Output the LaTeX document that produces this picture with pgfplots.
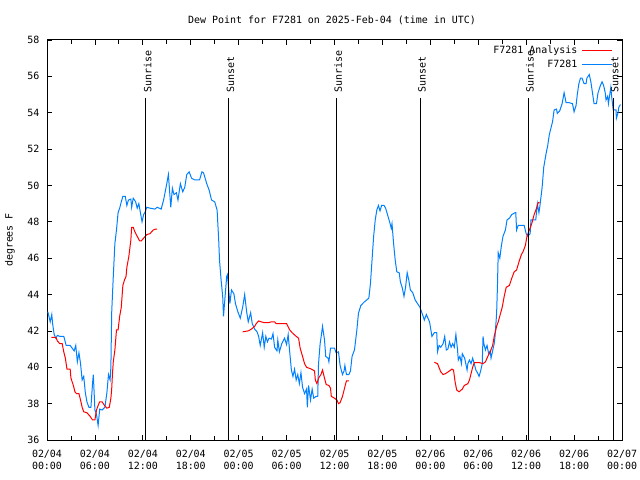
\documentclass[border=0pt]{standalone}
\usepackage{fontspec}
\setmainfont{DejaVu Sans Mono}
\usepackage{pgfplots}
\pgfplotsset{compat=1.18}
\definecolor{obsblue}{RGB}{0,128,255}

% F7281 observations (hours since 02/04 00:00 UTC, degrees F)
\pgfplotstableread{
t v
0.1 43.06
0.4 42.5
0.6 42.9
0.7 42.4
0.9 41.8
1.1 41.6
1.3 41.75
1.6 41.7
2.1 41.7
2.4 41.2
2.9 41.2
3.4 40.9
3.6 41.2
3.8 40.3
4.0 40.8
4.2 40.2
4.4 39.3
4.6 39.5
4.8 38.6
5.0 38.1
5.25 37.8
5.5 37.8
5.7 39.1
5.8 39.6
6.0 37.65
6.2 37.4
6.4 36.8
6.6 37.7
6.9 37.65
7.25 37.8
7.5 38.6
7.7 39.6
7.9 39.3
8.0 40.0
8.1 43.0
8.3 45.0
8.5 46.8
8.7 47.55
8.9 48.5
9.1 48.75
9.3 49.1
9.5 49.4
9.8 49.4
10.0 48.9
10.2 49.2
10.5 49.25
10.6 48.8
10.8 49.3
11.1 49.1
11.3 48.75
11.5 49.0
11.7 48.5
11.9 48.0
12.1 48.4
12.3 48.55
12.5 48.8
12.9 48.75
13.5 48.7
13.8 48.8
14.3 48.7
14.6 49.2
15.0 50.1
15.2 50.6
15.5 48.8
15.7 49.85
15.9 49.5
16.2 49.6
16.4 49.2
16.7 50.1
17.0 49.65
17.25 49.9
17.5 50.6
17.8 50.75
18.1 50.4
18.5 50.3
19.1 50.3
19.4 50.75
19.6 50.7
20.0 50.1
20.3 49.75
20.6 49.2
21.0 49.1
21.3 48.65
21.5 47.0
21.6 45.9
21.8 44.8
22.0 43.9
22.1 42.8
22.3 43.9
22.5 45.0
22.6 45.1
22.9 43.5
23.1 44.25
23.4 44.05
23.6 43.5
23.9 43.05
24.2 42.7
24.5 43.3
24.75 44.0
25.0 43.05
25.2 42.5
25.5 43.0
25.7 42.4
26.0 42.1
26.3 41.95
26.5 41.7
26.7 41.2
27.0 41.9
27.2 41.1
27.4 41.7
27.6 41.4
27.8 41.6
28.1 41.55
28.3 41.85
28.5 41.1
28.8 40.9
28.9 41.5
29.1 40.85
29.4 41.3
29.75 41.6
30.0 41.25
30.2 41.8
30.4 40.8
30.6 39.85
30.8 39.5
31.0 39.9
31.2 39.3
31.4 39.6
31.6 39.1
31.8 39.7
32.0 38.9
32.25 38.55
32.5 38.8
32.6 37.8
32.75 39.0
33.0 38.2
33.2 38.8
33.4 38.3
33.7 38.4
33.9 38.4
34.0 40.2
34.2 41.3
34.3 41.6
34.5 42.25
34.75 41.5
34.9 40.6
35.2 40.5
35.3 40.3
35.5 41.05
36.0 41.05
36.2 40.8
36.5 40.85
36.7 40.1
37.0 39.6
37.2 39.8
37.3 40.1
37.5 39.6
37.8 39.6
38.0 39.8
38.2 40.6
38.5 40.95
38.8 42.05
39.0 42.97
39.3 43.4
39.75 43.6
40.3 43.8
40.5 44.6
40.7 45.9
40.9 47.2
41.1 48.1
41.3 48.65
41.5 48.9
41.7 48.6
41.9 48.9
42.2 48.9
42.4 48.75
42.7 48.3
42.9 48.0
43.1 47.65
43.2 47.9
43.4 46.8
43.6 45.9
43.8 45.25
44.1 45.2
44.25 44.7
44.5 44.35
44.7 43.9
44.9 44.4
45.1 45.2
45.3 44.8
45.5 44.25
45.8 44.1
46.1 43.7
46.4 43.5
46.7 43.3
47.1 42.8
47.25 42.6
47.5 42.9
47.9 42.5
48.2 41.7
48.5 41.9
48.8 41.9
48.9 40.85
49.1 41.2
49.3 41.1
49.6 41.3
49.8 41.7
50.0 40.95
50.2 41.0
50.4 41.4
50.6 41.1
50.8 41.3
51.0 41.1
51.2 41.8
51.4 41.0
51.5 40.4
51.7 40.6
51.9 40.2
52.0 40.75
52.3 40.5
52.6 39.85
52.7 40.2
52.9 40.4
53.1 40.2
53.3 40.5
53.5 40.2
53.7 39.85
53.9 39.7
54.1 39.5
54.3 39.8
54.5 40.2
54.6 41.7
54.7 41.3
54.9 40.95
55.1 41.2
55.3 40.75
55.5 40.9
55.6 40.5
55.8 40.9
56.0 41.3
56.1 41.7
56.3 42.96
56.4 44.4
56.5 46.3
56.7 46.0
56.9 46.7
57.1 47.2
57.4 47.55
57.6 48.1
57.9 48.2
58.2 48.4
58.6 48.5
58.7 48.5
58.8 47.55
59.0 47.8
59.25 47.8
59.75 47.8
60.0 47.35
60.2 47.2
60.5 47.35
60.6 48.1
61.2 48.1
61.4 49.0
61.6 48.5
61.7 48.8
62.0 49.9
62.2 51.0
62.5 51.77
62.7 52.2
62.9 52.8
63.1 53.15
63.3 53.5
63.5 54.15
63.8 54.2
63.9 53.96
64.2 54.1
64.5 54.5
64.75 55.1
65.0 54.55
65.4 54.55
65.8 54.5
66.0 54.05
66.25 54.4
66.4 55.0
66.6 55.6
66.8 55.9
67.0 55.9
67.25 55.6
67.5 55.6
67.6 55.9
67.9 56.1
68.1 55.7
68.3 55.1
68.5 54.5
68.8 54.5
69.0 55.1
69.3 55.5
69.5 55.7
69.7 55.5
69.9 55.1
70.0 54.7
70.2 54.9
70.3 54.5
70.5 55.1
70.6 55.4
70.7 54.9
70.9 54.15
71.25 54.15
71.3 53.7
71.5 54.0
71.6 54.3
71.8 54.45
}\obs

% analysis, three separate pieces
\pgfplotstableread{
t v
0.55 41.65
1.1 41.65
1.3 41.45
1.6 41.3
1.9 41.3
2.1 40.85
2.3 40.5
2.5 39.9
2.9 39.9
3.0 39.4
3.3 39.0
3.5 38.65
3.7 38.55
4.0 38.55
4.2 38.2
4.4 37.8
4.6 37.55
5.0 37.5
5.4 37.3
5.7 37.1
6.0 37.1
6.2 37.65
6.4 37.9
6.6 38.1
6.9 38.1
7.2 37.9
7.5 37.75
7.8 37.8
8.0 38.3
8.1 38.8
8.2 39.65
8.3 40.3
8.5 40.95
8.7 42.05
8.9 42.05
9.1 42.8
9.3 43.3
9.5 44.5
9.7 44.8
9.9 45.0
10.0 45.5
10.25 46.1
10.5 47.0
10.6 47.7
10.8 47.7
11.0 47.45
11.3 47.2
11.6 46.95
11.8 46.95
12.1 47.1
12.5 47.3
12.9 47.35
13.3 47.55
13.6 47.6
13.8 47.6
}\anaA

\pgfplotstableread{
t v
24.5 41.95
25.2 42.0
25.6 42.1
26.0 42.25
26.2 42.4
26.5 42.55
26.8 42.5
27.25 42.45
27.7 42.45
28.1 42.5
28.5 42.5
28.7 42.4
29.1 42.4
29.75 42.4
30.0 42.4
30.4 42.05
30.7 41.9
31.2 41.7
31.5 41.6
31.7 41.05
32.0 40.6
32.25 40.2
32.5 40.0
33.1 39.9
33.5 39.8
33.6 39.3
33.8 39.1
34.0 39.4
34.3 39.6
34.5 39.85
34.75 39.4
34.96 39.05
35.3 39.0
35.5 38.85
35.6 38.4
36.0 38.3
36.3 38.2
36.5 38.0
36.7 38.05
37.0 38.4
37.2 38.75
37.4 39.1
37.5 39.25
37.8 39.25
}\anaB

\pgfplotstableread{
t v
48.5 40.27
48.9 40.2
49.3 39.75
49.6 39.6
49.9 39.65
50.4 39.8
50.7 39.9
50.9 39.85
51.1 39.2
51.3 38.75
51.6 38.65
52.0 38.8
52.25 39.0
52.7 39.1
52.9 39.3
53.1 39.65
53.3 40.0
53.5 40.25
53.8 40.25
54.2 40.25
54.6 40.2
54.9 40.3
55.2 40.6
55.5 40.85
55.8 41.2
56.0 41.7
56.3 42.25
56.5 42.5
56.75 42.9
57.0 43.3
57.25 43.9
57.5 44.4
57.9 44.5
58.2 44.9
58.5 45.25
58.8 45.35
59.1 45.8
59.4 46.2
59.6 46.35
59.9 46.7
60.1 47.2
60.4 47.55
60.7 47.9
61.0 48.4
61.3 48.75
61.5 49.05
61.7 49.05
}\anaC

\begin{document}
\begin{tikzpicture}
\useasboundingbox (0,0) rectangle (640bp,480bp);
\node at (332bp,460bp) {Dew Point for F7281 on 2025-Feb-04 (time in UTC)};
\node[rotate=90] at (10bp,240bp) {degrees F};
\begin{axis}[
    at={(47bp,40bp)}, anchor=south west,
    scale only axis, width=575bp, height=400bp,
    xmin=0, xmax=72, ymin=36, ymax=58,
    xtick={0,6,...,72}, minor xtick={3,9,...,69},
    ytick={36,38,...,58},
    xticklabels={{02/04\\00:00},{02/04\\06:00},{02/04\\12:00},{02/04\\18:00},
                 {02/05\\00:00},{02/05\\06:00},{02/05\\12:00},{02/05\\18:00},
                 {02/06\\00:00},{02/06\\06:00},{02/06\\12:00},{02/06\\18:00},
                 {02/07\\00:00}},
    xticklabel style={align=center, yshift=-7bp},
    yticklabel style={xshift=-4bp},
    /pgf/number format/assume math mode=true,
    tick align=inside,
    major tick length=5bp, minor tick length=4bp,
    tick style={black, line width=0.8bp},
    axis line style={line width=1bp},
    legend style={draw=none, fill=none, at={(1,1)}, anchor=north east,
                  xshift=-6bp, yshift=-2bp, row sep=2bp, column sep=3bp,
                  nodes={inner sep=1.5bp}},
    legend cell align=right,
    legend plot pos=right,
    legend image code/.code={\draw[#1] (0bp,0bp) -- (30bp,0bp);},
]
\addlegendimage{red, line width=1bp}
\addlegendentry{F7281 Analysis}
\addlegendimage{obsblue, line width=1bp}
\addlegendentry{F7281}

\addplot[obsblue, line width=1bp, forget plot] table[x=t, y=v] {\obs};
\addplot[red, line width=1bp, forget plot] table[x=t, y=v] {\anaA};
\addplot[red, line width=1bp, forget plot] table[x=t, y=v] {\anaB};
\addplot[red, line width=1bp, forget plot] table[x=t, y=v] {\anaC};

% sunrise / sunset markers
\addplot[black, line width=1bp, forget plot] coordinates {(12.375,36) (12.375,54.8)};
\addplot[black, line width=1bp, forget plot] coordinates {(22.75,36) (22.75,54.8)};
\addplot[black, line width=1bp, forget plot] coordinates {(36.25,36) (36.25,54.8)};
\addplot[black, line width=1bp, forget plot] coordinates {(46.75,36) (46.75,54.8)};
\addplot[black, line width=1bp, forget plot] coordinates {(60.25,36) (60.25,54.8)};
\addplot[black, line width=1bp, forget plot] coordinates {(70.875,36) (70.875,54.8)};
\node[rotate=90, anchor=west, inner sep=0pt] at (12.6,55.1) {Sunrise};
\node[rotate=90, anchor=west, inner sep=0pt] at (22.97,55.1) {Sunset};
\node[rotate=90, anchor=west, inner sep=0pt] at (36.47,55.1) {Sunrise};
\node[rotate=90, anchor=west, inner sep=0pt] at (46.97,55.1) {Sunset};
\node[rotate=90, anchor=west, inner sep=0pt] at (60.47,55.1) {Sunrise};
\node[rotate=90, anchor=west, inner sep=0pt] at (71.1,55.1) {Sunset};
\end{axis}
\end{tikzpicture}
\end{document}
